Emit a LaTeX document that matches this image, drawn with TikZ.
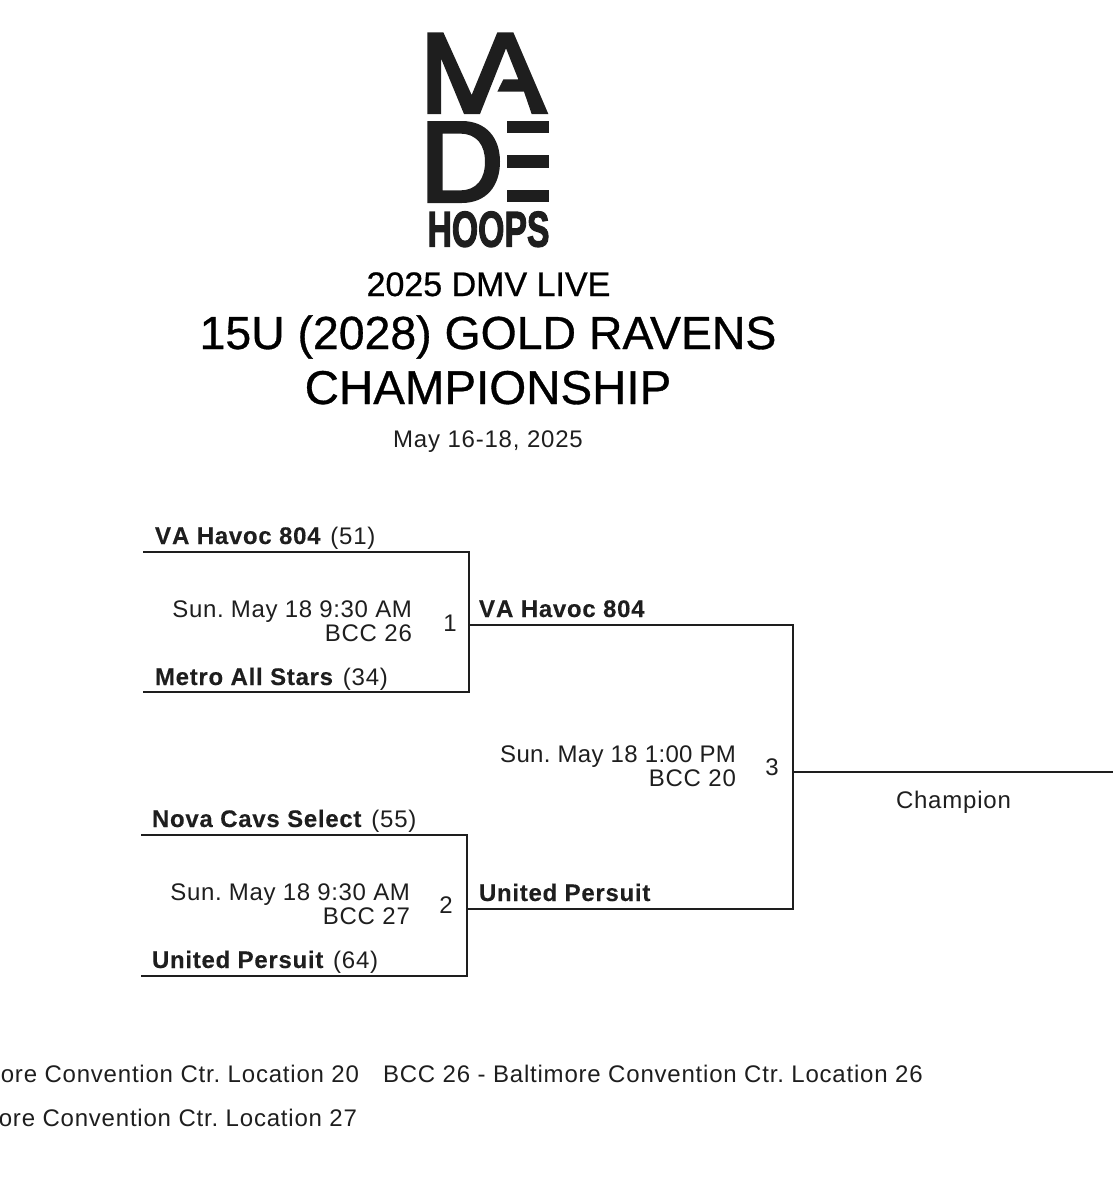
\documentclass[tikz,border=0pt]{standalone}
\usepackage{fontspec}
\setmainfont{Liberation Sans}
\newfontfamily\bodyfont[LetterSpace=3.3]{Liberation Sans}
\newfontfamily\timeA[LetterSpace=2.6]{Liberation Sans}
\newfontfamily\timeB[LetterSpace=1.5]{Liberation Sans}
\newfontfamily\boldbody[LetterSpace=3.0,FakeBold=0.2]{Liberation Sans Bold}
\newfontfamily\titlefont[FakeBold=0.7]{Liberation Sans}
\newfontfamily\hoopsfont[FakeBold=2.6]{Liberation Sans Bold}
\definecolor{ink}{HTML}{1E1E1E}
\tikzset{
  x=0.75pt,y=-0.75pt,
  wire/.style={line width=1.6pt,draw=ink,line cap=butt,line join=miter},
  txt/.style={inner sep=0,outer sep=0,text=ink,font=\bodyfont\fontsize{18pt}{20pt}\selectfont\frenchspacing},
  team/.style={txt,anchor=base west},
  info/.style={txt,anchor=base east,align=right},
  num/.style={txt,anchor=base},
  title/.style={inner sep=0,outer sep=0,text=black,anchor=base},
  logo/.style={fill=ink,draw=none}
}
\newcommand{\tn}[1]{{\boldbody #1}\kern1.8pt\relax}
\newcommand{\vah}{V\kern0.8pt A Havoc 804}
\begin{document}
\begin{tikzpicture}
\useasboundingbox (0,0) rectangle (1113,1200);
\clip (0,0) rectangle (1113,1200);
% logo
\begin{scope}[shift={(420,25)},x=0.25pt,y=-0.25pt]
\path[logo] (22,22)--(70,22)--(155,210)--(232,22)--(280,22)--(385,267)--(335,267)--(312,200)--(232,200)--(250,163)--(295,163)--(258,70)--(180,267)--(132,267)--(63,100)--(63,267)--(22,267)--cycle;
\end{scope}
\begin{scope}[shift={(420,115)},x=0.25pt,y=-0.25pt]
\path[logo,even odd rule] (22,18)--(125,18).. controls (200,18) and (240,70) .. (240,140).. controls (240,212) and (200,264) .. (125,264)--(22,264)--cycle
 (68,56)--(68,226)--(120,226).. controls (172,226) and (195,190) .. (195,140).. controls (195,92) and (172,56) .. (120,56)--cycle;
\path[logo] (262,18) rectangle (387,55);
\path[logo] (262,120) rectangle (387,158);
\path[logo] (262,225) rectangle (387,262);
\end{scope}
\node[inner sep=0,outer sep=0,anchor=north west,text=ink] (hoops) at (427.5,211.5) {\resizebox{91.5pt}{26.3pt}{\hoopsfont HOOPS}};
% titles
\node[title,font=\titlefont\fontsize{25.5pt}{28pt}\selectfont] (t1) at (488.5,296) {2025 DMV LIVE};
\node[title,font=\titlefont\fontsize{34.8pt}{38pt}\selectfont] (t2) at (488,349) {15U (2028) GOLD RAVENS};
\node[title,font=\titlefont\fontsize{35.6pt}{38pt}\selectfont] (t3) at (488,404) {CHAMPIONSHIP};
\node[title,text=ink,font=\bodyfont\fontsize{18pt}{20pt}\selectfont] (t4) at (488,447) {May 16-18, 2025};
% bracket points
\coordinate (a1) at (143,552); \coordinate (a2) at (469,552);
\coordinate (b1) at (143,692); \coordinate (b2) at (469,692);
\coordinate (w1) at (469,625); \coordinate (f1) at (793,625);
\coordinate (c1) at (141,835); \coordinate (c2) at (467,835);
\coordinate (d1) at (141,976); \coordinate (d2) at (467,976);
\coordinate (w2) at (467,909); \coordinate (f2) at (793,909);
\coordinate (w3) at (793,772); \coordinate (end) at (1113,772);
\draw[wire] (a1) -- (a2) -- (b2) -- (b1);
\draw[wire] (c1) -- (c2) -- (d2) -- (d1);
\draw[wire] (w1) -- (f1) -- (f2) -- (w2);
\draw[wire] (w3) -- (end);
% teams
\node[team] (n1) at (155,544) {\tn{\vah} (51)};
\node[team] (n2) at (155,685) {\tn{Metro All Stars} (34)};
\node[team] (n3) at (152,827) {\tn{Nova Cavs Select} (55)};
\node[team] (n4) at (152,968) {\tn{United Persuit} (64)};
\node[team] (n5) at (479,617) {{\boldbody \vah}};
\node[team] (n6) at (479,901) {{\boldbody United Persuit}};
% game info
\node[info] (g1a) at (412,617) {{\timeA Sun. May 18 9:30 AM}};
\node[info] (g1b) at (412,641) {BCC 26};
\node[num] (g1) at (450,631) {1};
\node[info] (g2a) at (410,900) {{\timeA Sun. May 18 9:30 AM}};
\node[info] (g2b) at (410,924) {BCC 27};
\node[num] (g2) at (446,913) {2};
\node[info] (g3a) at (736,762) {{\timeB Sun. May 18 1:00 PM}};
\node[info] (g3b) at (736,786) {BCC 20};
\node[num] (g3) at (772,775) {3};
\node[team] (ch) at (896,808) {Champion};
% footer
\node[info] (l1) at (359,1082) {ore Convention Ctr. Location 20};
\node[team] (l2) at (383,1082) {BCC 26 - Baltimore Convention Ctr. Location 26};
\node[info] (l3) at (357,1126) {ore Convention Ctr. Location 27};
\end{tikzpicture}
\end{document}
